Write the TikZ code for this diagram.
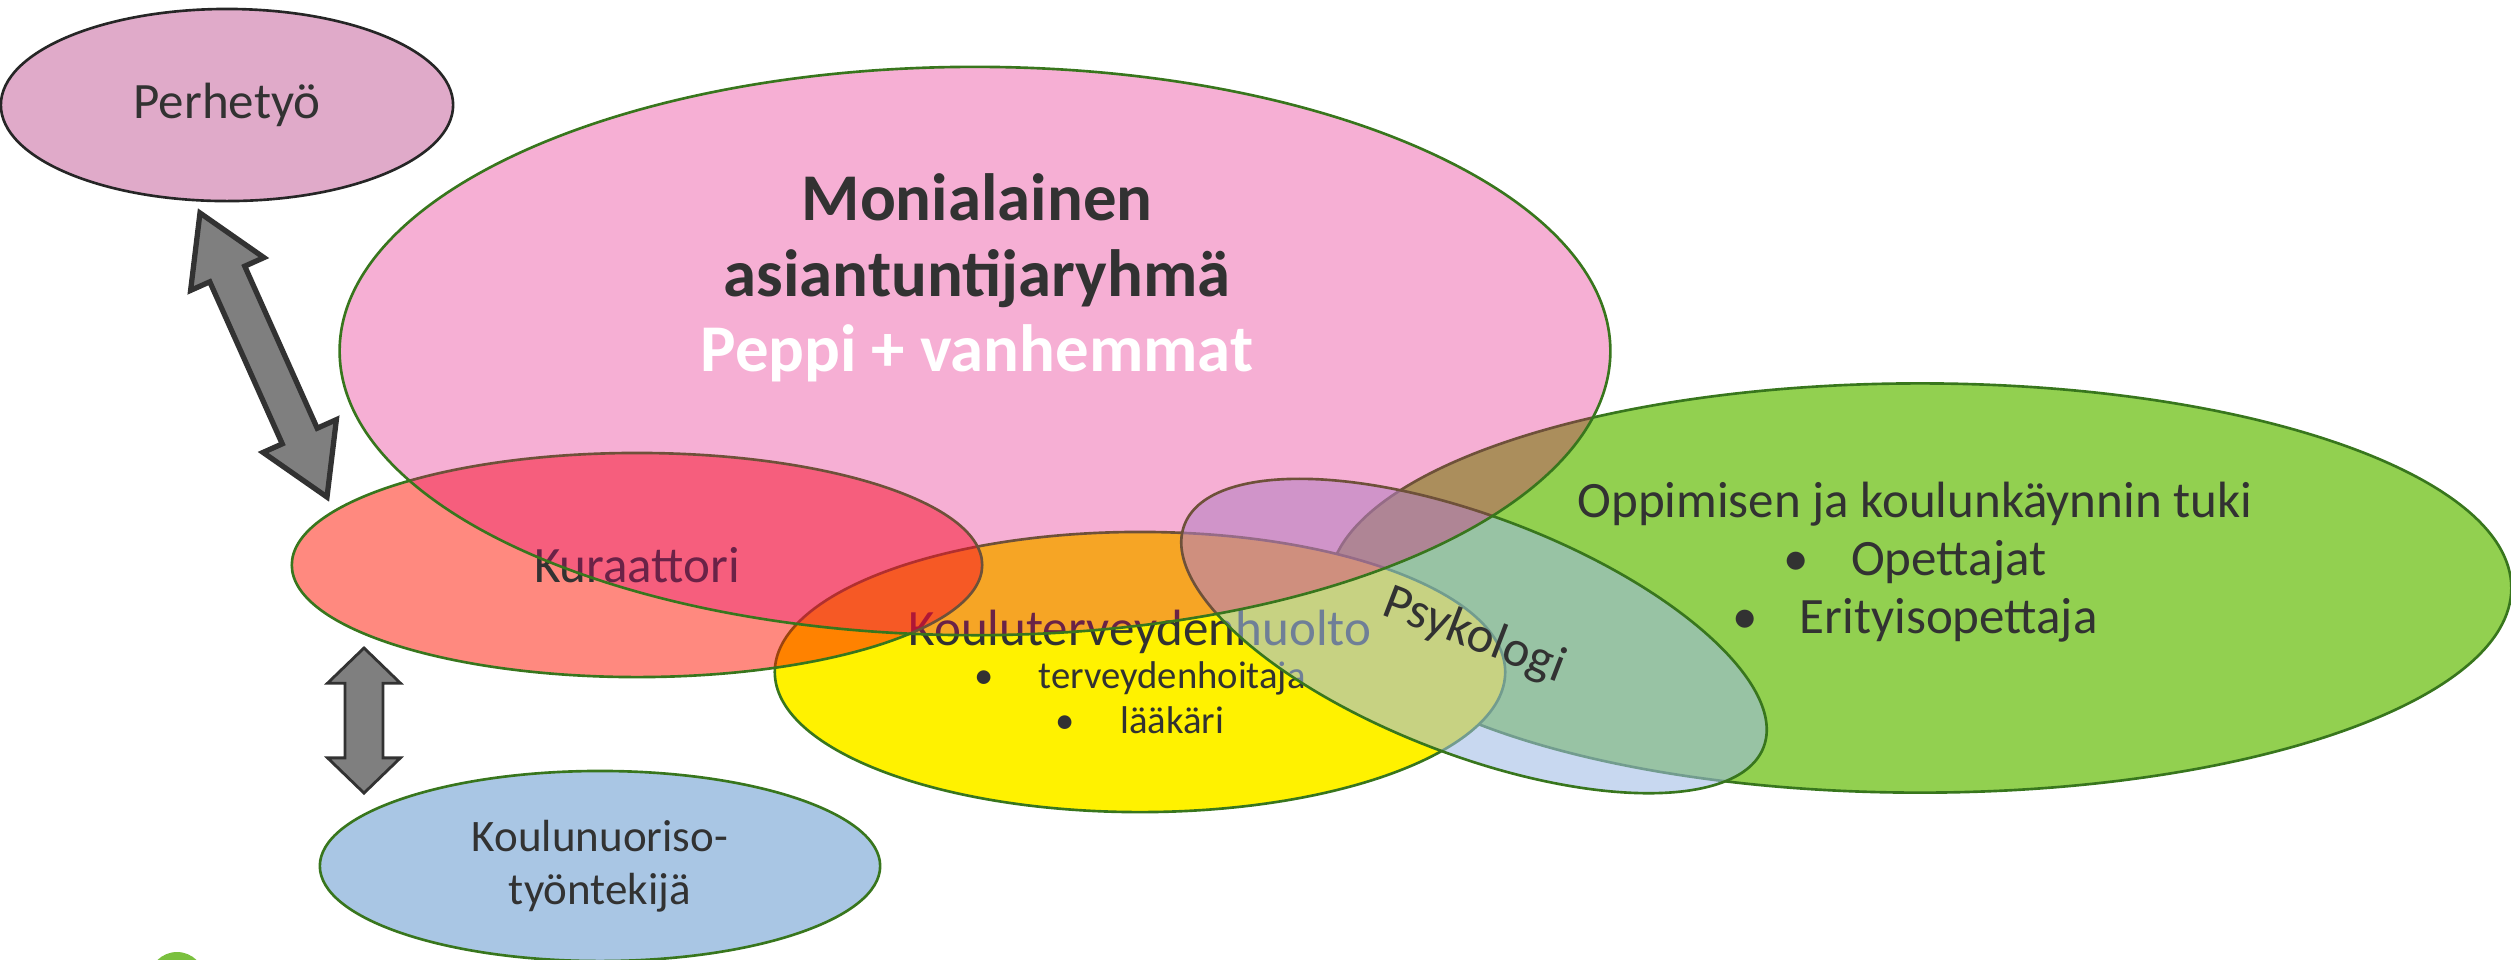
\documentclass[tikz,border=0pt]{standalone}
\usepackage{fontspec}
\setmainfont{Carlito}
\usetikzlibrary{shapes.geometric,shapes.arrows}

\definecolor{txtgray}{RGB}{50,50,50}
\definecolor{rimgreen}{RGB}{56,118,29}
\definecolor{perhepink}{RGB}{224,170,201}
\definecolor{mainpink}{RGB}{227,2,119}
\definecolor{kurred}{RGB}{255,20,0}
\definecolor{psykblue}{RGB}{158,186,229}
\definecolor{tukigreen}{RGB}{146,208,80}
\definecolor{nuorisoblue}{RGB}{169,198,228}
\definecolor{arrgray}{RGB}{127,127,127}
\definecolor{logogreen}{RGB}{122,192,62}

\newcommand{\isofont}{\fontsize{14.5}{16.5}\selectfont}
\newcommand{\pienifont}{\fontsize{11}{13}\selectfont}
\newcommand{\otsikkofont}{\fontsize{19}{21.5}\selectfont\bfseries}

\tikzset{
  blob/.style={ellipse, draw=rimgreen, line width=0.75pt, inner sep=0pt,
    text=txtgray, align=center, font=\isofont},
  dblarrow/.style={double arrow, draw=txtgray, fill=arrgray, inner xsep=0pt},
}

\begin{document}
\begin{tikzpicture}[x=0.01cm, y=-0.01cm]
\useasboundingbox (0,0) rectangle (2511,959);

% erilliset pallot
\node[blob, draw=black!85, fill=perhepink, minimum width=4.52cm, minimum height=1.92cm] (perhe) at (227,105) {Perhetyö};
\node[blob, fill=nuorisoblue, minimum width=5.6cm, minimum height=1.9cm, font=\fontsize{12.8}{15}\selectfont] (nuoriso) at (600,866) {Koulunuoriso-\\työntekijä};

% oppimisen tuki
\node[blob, fill=tukigreen, minimum width=11.82cm, minimum height=4.09cm] (tuki) at (1920,588) {};
\node[text=txtgray, align=center, font=\isofont] (tukiteksti) at (1915,562)
  {Oppimisen ja koulunkäynnin tuki\\ \textbullet\hspace{0.42cm}Opettajat\\ \textbullet\hspace{0.42cm}Erityisopettaja};

% kouluterveydenhuolto
\node[blob, fill=yellow, minimum width=7.3cm, minimum height=2.8cm] (terveys) at (1140,672)
  {Kouluterveydenhuolto\\[-4.4pt] \pienifont\textbullet\hspace{0.45cm}terveydenhoitaja\\[-3.7pt] \pienifont\textbullet\hspace{0.45cm}lääkäri};

% kuraattori ja psykologi
\node[blob, fill=kurred, fill opacity=0.5, text opacity=1, minimum width=6.9cm, minimum height=2.24cm] (kur) at (637,565) {Kuraattori};
\node[blob, fill=psykblue, fill opacity=0.57, text opacity=1, rotate=-21, minimum width=6.2cm, minimum height=2.38cm] (psyk) at (1474,636) {Psykologi};

% monialainen ryhma
\node[blob, fill=mainpink, fill opacity=0.316, minimum width=12.7cm, minimum height=5.68cm] (moni) at (975,351) {};
\node[text=txtgray, align=center, font=\otsikkofont] (moniteksti) at (977,278)
  {Monialainen\\ asiantuntijaryhmä\\ \textcolor{white}{Peppi + vanhemmat}};

% nuolet
\coordinate (pkA) at (200,213);
\coordinate (pkB) at (327,497);
\path (pkA) -- (pkB) node[midway, sloped, dblarrow, line width=1.5pt, minimum height=3.11cm,
  inner ysep=0.165cm, double arrow head extend=0.21cm, double arrow tip angle=62] (nuoli1) {};
\coordinate (knA) at (364,648);
\coordinate (knB) at (364,793);
\path (knA) -- (knB) node[midway, sloped, dblarrow, line width=0.8pt, minimum height=1.45cm,
  inner ysep=0.175cm, double arrow head extend=0.175cm, double arrow tip angle=92] (nuoli2) {};

\fill[logogreen] (177,980) circle (28);
\end{tikzpicture}
\end{document}
